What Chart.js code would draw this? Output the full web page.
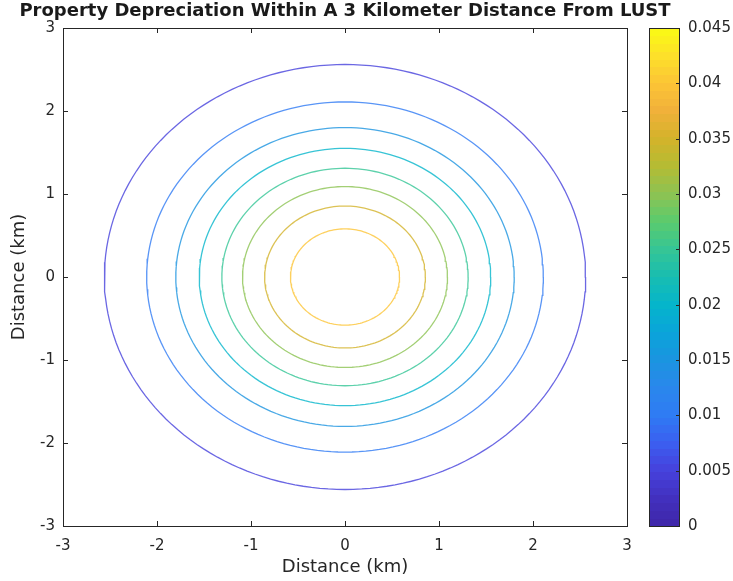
<!DOCTYPE html>
<html>
<head>
<meta charset="utf-8">
<title>Property Depreciation Within A 3 Kilometer Distance From LUST</title>
<script src="https://cdn.jsdelivr.net/npm/chart.js@4/dist/chart.umd.min.js"></script>
<style>
  html, body { margin: 0; padding: 0; background: #fff; }
  #chart { display: block; }
</style>
</head>
<body>
<canvas id="chart" width="733" height="581"></canvas>
<script>
// --- values ---
const TITLE = 'Property Depreciation Within A 3 Kilometer Distance From LUST';
const X_LABEL = 'Distance (km)';
const Y_LABEL = 'Distance (km)';
const AXIS_TICKS = [-3, -2, -1, 0, 1, 2, 3];
const CB_TICKS = [0, 0.005, 0.01, 0.015, 0.02, 0.025, 0.03, 0.035, 0.04, 0.045];
const CB_LABELS = ['0', '0.005', '0.01', '0.015', '0.02', '0.025', '0.03', '0.035', '0.04', '0.045'];

// contour levels and the radius (km) where each one sits
const LEVELS = [0.005, 0.01, 0.015, 0.02, 0.025, 0.03, 0.035, 0.04];
const RADII = [2.56, 2.11, 1.80, 1.55, 1.31, 1.09, 0.855, 0.58];

// parula colormap, sampled every 0.0025 from 0 to 0.045
const PARULA = [
    '#3e26a8', '#4230be', '#4641dc', '#3b5ef0', '#2f7bf4', '#2a87ec', '#1b94e0',
    '#0aa4da', '#05b5cb', '#18bdb1', '#35c596', '#5acb6e', '#8cc353', '#b4bc34',
    '#d3b32a', '#f0b03a', '#fcc436', '#fde02a', '#f9fb14'
];

const AXIS_COLOR = '#262626';
const FONT = '"DejaVu Sans", sans-serif';

function hexToRgb(h) {
    return [1, 3, 5].map(i => parseInt(h.substr(i, 2), 16));
}

function parula(t, alpha = 1) {
    t = Math.max(0, Math.min(1, t));
    const p = t * (PARULA.length - 1);
    const i = Math.min(Math.floor(p), PARULA.length - 2);
    const f = p - i;
    const a = hexToRgb(PARULA[i]), b = hexToRgb(PARULA[i + 1]);
    const c = a.map((v, k) => Math.round(v + (b[k] - v) * f));
    return `rgba(${c[0]}, ${c[1]}, ${c[2]}, ${alpha})`;
}

// one closed line per contour level
function contourPoints(r) {
    const pts = [];
    for (let k = 0; k <= 180; k++) {
        const a = (k / 180) * Math.PI * 2;
        pts.push({ x: r * Math.cos(a), y: r * Math.sin(a) });
    }
    return pts;
}

const cbMax = CB_TICKS[CB_TICKS.length - 1];

const datasets = LEVELS.map((lvl, i) => ({
    label: String(lvl),
    data: contourPoints(RADII[i]),
    showLine: true,
    borderColor: parula(lvl / cbMax, 0.8),
    borderWidth: 1.3,
    pointRadius: 0,
    fill: false,
    tension: 0
}));

// box, inward ticks, title and colorbar (MATLAB look)
const matlabFrame = {
    id: 'matlabFrame',
    afterDatasetsDraw(chart) {
        const { ctx, chartArea: ca, scales } = chart;
        const tl = 5;
        ctx.save();
        ctx.strokeStyle = AXIS_COLOR;
        ctx.lineWidth = 1;
        ctx.strokeRect(Math.round(ca.left) + 0.5, Math.round(ca.top) + 0.5,
            Math.round(ca.right - ca.left), Math.round(ca.bottom - ca.top));
        ctx.beginPath();
        AXIS_TICKS.forEach(v => {
            const x = Math.round(scales.x.getPixelForValue(v)) + 0.5;
            ctx.moveTo(x, ca.bottom); ctx.lineTo(x, ca.bottom - tl);
            ctx.moveTo(x, ca.top); ctx.lineTo(x, ca.top + tl);
            const y = Math.round(scales.y.getPixelForValue(v)) + 0.5;
            ctx.moveTo(ca.left, y); ctx.lineTo(ca.left + tl, y);
            ctx.moveTo(ca.right, y); ctx.lineTo(ca.right - tl, y);
        });
        ctx.stroke();

        // colorbar
        const cb = scales.cb;
        const bx = 649, bw = 30;
        const n = 64;
        for (let i = 0; i < n; i++) {
            const y0 = cb.getPixelForValue(i * cbMax / n);
            const y1 = cb.getPixelForValue((i + 1) * cbMax / n);
            ctx.fillStyle = parula((i + 0.5) / n);
            ctx.fillRect(bx, Math.floor(y1), bw, Math.ceil(y0) - Math.floor(y1));
        }
        ctx.strokeStyle = AXIS_COLOR;
        ctx.strokeRect(bx + 0.5, Math.round(ca.top) + 0.5, bw, Math.round(ca.bottom - ca.top));
        ctx.beginPath();
        CB_TICKS.forEach(v => {
            const y = Math.round(cb.getPixelForValue(v)) + 0.5;
            ctx.moveTo(bx + bw, y); ctx.lineTo(bx + bw - 3, y);
        });
        ctx.stroke();

        // title
        ctx.fillStyle = '#1a1a1a';
        ctx.font = `bold 18px ${FONT}`;
        ctx.textAlign = 'center';
        ctx.textBaseline = 'middle';
        ctx.fillText(TITLE, (ca.left + ca.right) / 2, 11);
        ctx.restore();
    }
};

const tickFont = { family: FONT, size: 15 };
const titleFont = { family: FONT, size: 18 };

function noPad(s) {
    s.paddingTop = 0; s.paddingBottom = 0;
    s.paddingLeft = 0; s.paddingRight = 0;
}

new Chart(document.getElementById('chart'), {
    type: 'scatter',
    data: { datasets },
    options: {
        responsive: false,
        animation: false,
        layout: { padding: { top: 28, left: 0, right: 0, bottom: 0 } },
        plugins: {
            legend: { display: false },
            title: { display: false },
            tooltip: { enabled: false }
        },
        scales: {
            x: {
                type: 'linear',
                min: -3, max: 3,
                afterBuildTicks: s => { s.ticks = AXIS_TICKS.map(v => ({ value: v })); },
                afterFit: s => { s.height = 55; noPad(s); },
                grid: { display: false, drawTicks: false },
                border: { display: false },
                ticks: { font: tickFont, color: AXIS_COLOR, padding: 11, maxRotation: 0 },
                title: { display: true, text: X_LABEL, font: titleFont, color: AXIS_COLOR, padding: { top: 0, bottom: 3 } }
            },
            y: {
                type: 'linear',
                position: 'left',
                min: -3, max: 3,
                afterBuildTicks: s => { s.ticks = AXIS_TICKS.map(v => ({ value: v })); },
                afterFit: s => { s.width = 63; noPad(s); },
                grid: { display: false, drawTicks: false },
                border: { display: false },
                ticks: { font: tickFont, color: AXIS_COLOR, padding: 8 },
                title: { display: true, text: Y_LABEL, font: titleFont, color: AXIS_COLOR, padding: { top: 9, bottom: 0 } }
            },
            cb: {
                type: 'linear',
                position: 'right',
                min: 0, max: cbMax,
                afterBuildTicks: s => { s.ticks = CB_TICKS.map(v => ({ value: v })); },
                afterFit: s => { s.width = 106; noPad(s); },
                grid: { display: false, drawTicks: false },
                border: { display: false },
                ticks: {
                    font: tickFont, color: AXIS_COLOR, padding: 61,
                    callback: (v, i) => CB_LABELS[i]
                }
            }
        }
    },
    plugins: [matlabFrame]
});
</script>
</body>
</html>
